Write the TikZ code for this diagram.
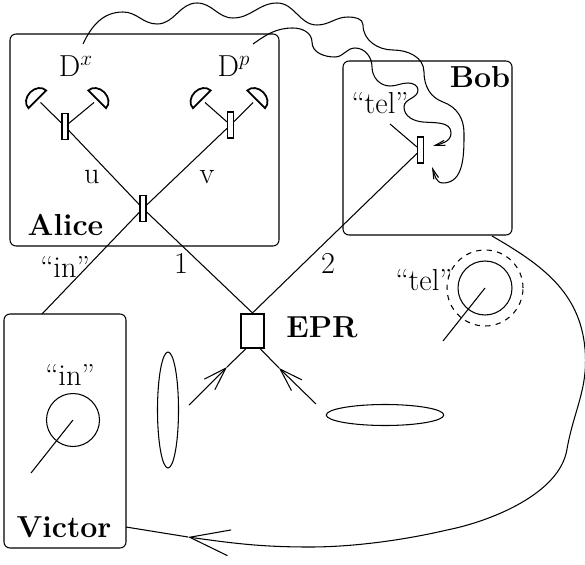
\documentclass[tikz,border=0pt]{standalone}
\usetikzlibrary{arrows.meta,shapes.geometric}
\tikzset{
	panel/.style={draw,rounded corners=0.12cm,inner sep=0pt},
	splitter/.style={draw,inner sep=0pt,minimum width=0.12cm,minimum height=0.52cm},
	lab/.style={anchor=base,inner sep=0pt,font=\LARGE},
	agent/.style={anchor=base,inner sep=0pt,font=\LARGE\bfseries},
	state/.style={draw,circle,inner sep=0pt},
	lens/.style={draw,ellipse,inner sep=0pt},
	detector/.style={line width=1pt},
	smallhead/.style={-{Straight Barb[length=0.2cm,width=0.1cm]}},
	midhead/.style={-{Straight Barb[length=0.46cm,width=0.3cm]}},
	bighead/.style={-{Straight Barb[length=0.8cm,width=0.52cm]}},
	every path/.append style={line width=0.6pt}
}
\begin{document}
\begin{tikzpicture}
	\useasboundingbox (0,0) rectangle (11.7,11.28);
	\node[panel,minimum width=5.38cm,minimum height=4.24cm] (Alice) at (2.89,8.48) {}; \node[panel,minimum width=3.38cm,minimum height=3.48cm] (Bob) at (8.55,8.32) {}; \node[panel,minimum width=2.44cm,minimum height=4.68cm] (Victor) at (1.30,2.66) {};
	\node[agent] (AliceName) at (1.31,6.58) {Alice}; \node[agent] (BobName) at (9.60,9.52) {Bob}; \node[agent] (VictorName) at (1.28,0.54) {Victor}; \node[agent] (EPRName) at (6.44,4.54) {EPR};
	\node[lab] (Dx) at (1.52,9.74) {D$^x$}; \node[lab] (Dp) at (4.68,9.74) {D$^p$}; \node[lab] (u) at (1.84,7.62) {u}; \node[lab] (v) at (4.14,7.62) {v};
	\node[lab] (inA) at (1.30,5.74) {``in''}; \node[lab] (one) at (3.62,5.82) {1}; \node[lab] (two) at (6.56,5.82) {2};
	\node[lab] (telA) at (7.60,9.00) {``tel''}; \node[lab] (telB) at (8.48,5.48) {``tel''}; \node[lab] (inB) at (1.40,3.58) {``in''};
	
	\node[splitter] (BSa) at (2.86,7.11) {}; \node[splitter] (BSb) at (1.30,8.75) {}; \node[splitter] (BSc) at (4.61,8.78) {}; \node[splitter] (BSd) at (8.41,8.28) {};
	\node[draw,line width=1.2pt,inner sep=0pt,minimum width=0.46cm,minimum height=0.68cm] (EPR) at (5.05,4.66) {};
	
	% detectors
	\coordinate (DetA) at (0.81,9.23); \coordinate (DetB) at (1.88,9.23); \coordinate (DetC) at (4.10,9.23); \coordinate (DetD) at (5.06,9.23);
	\foreach \det/\ang in {DetA/45,DetB/-45,DetC/45,DetD/-45}
		\draw[detector,shift={(\det)},rotate=\ang] (-0.25,0.09) arc[start angle=180,end angle=0,x radius=0.25,y radius=0.2] -- cycle;
	\draw (BSb) -- (DetA); \draw (BSb) -- (DetB); \draw (BSc) -- (DetC); \draw (BSc) -- (DetD);
	
	\coordinate (VictorIn) at (0.84,5.00); \coordinate (BobFree) at (7.80,8.80);
	\draw (BSb) -- (BSa); \draw (BSc) -- (BSa); \draw (BSa) -- (VictorIn); \draw (BSa) -- (EPR.north); \draw (BSd) -- (EPR.north); \draw (BSd) -- (BobFree);
	
	% pump beams
	\coordinate (PumpL) at (3.78,3.18); \coordinate (TipL) at (4.54,3.94); \coordinate (PumpR) at (6.32,3.20); \coordinate (TipR) at (5.58,3.92);
	\draw[midhead] (PumpL) -- (TipL); \draw (TipL) -- (EPR.-111); \draw[midhead] (PumpR) -- (TipR); \draw (TipR) -- (EPR.-66);
	\node[lens,minimum width=0.42cm,minimum height=2.32cm] (LensV) at (3.36,3.08) {}; \node[lens,minimum width=2.35cm,minimum height=0.42cm] (LensH) at (7.70,2.98) {};
	
	% states
	\node[state,minimum size=1.06cm] (StateIn) at (1.46,2.88) {}; \coordinate (StateInEnd) at (0.62,1.82); \draw (StateIn.center) -- (StateInEnd);
	\node[state,minimum size=1.08cm] (StateTel) at (9.70,5.52) {}; \node[state,dashed,minimum size=1.52cm] (StateTelOut) at (9.70,5.52) {}; \coordinate (StateTelEnd) at (8.86,4.46); \draw (StateTel.center) -- (StateTelEnd);
	
	% classical signals
	\draw[smallhead] (1.66,10.4) to[out=65,in=180] (2.46,11.04) to[out=0,in=180] (3.14,10.8) to[out=0,in=180] (3.94,11.22) to[out=0,in=180] (4.66,10.92) to[out=0,in=180] (5.54,11.22) to[out=0,in=180] (6.34,10.78) to[out=0,in=180] (6.96,10.94) to[out=0,in=90] (7.26,10.78) to[out=-90,in=180] (7.86,10.28) to[out=0,in=90] (8.48,9.84) to[out=-90,in=160] (8.86,9.24) to[out=-20,in=90] (9.28,8.62) to[out=-90,in=0] (8.86,7.62) to[out=180,in=-70] (8.64,7.94);
	\draw[smallhead] (5.06,10.4) to[out=35,in=180] (5.86,10.72) to[out=0,in=90] (6.24,10.44) to[out=-90,in=180] (6.7,10.14) to[out=0,in=180] (7.1,10.32) to[out=0,in=90] (7.44,9.94) to[out=-90,in=180] (7.8,9.56) to[out=0,in=180] (8.16,9.62) to[out=0,in=90] (8.36,9.48) to[out=-90,in=90] (8.08,9.14) to[out=-90,in=175] (8.46,8.84) to[out=-5,in=90] (9.02,8.62) to[out=-90,in=15] (8.66,8.36);
	
	\coordinate (BobOut) at (9.84,6.56); \coordinate (SendTip) at (3.76,0.54); \coordinate (VictorOut) at (2.52,0.74);
	\draw[bighead] (BobOut) to[out=-30,in=95] (11.7,4.3) to[out=-85,in=80] (11.34,2.3) .. controls (11.2,1.4) and (9.8,0.85) .. (8.94,0.68) .. controls (8,0.46) and (7,0.34) .. (6.2,0.34) to[out=180,in=-8] (SendTip);
	\draw (SendTip) -- (VictorOut);
\end{tikzpicture}
\end{document}
